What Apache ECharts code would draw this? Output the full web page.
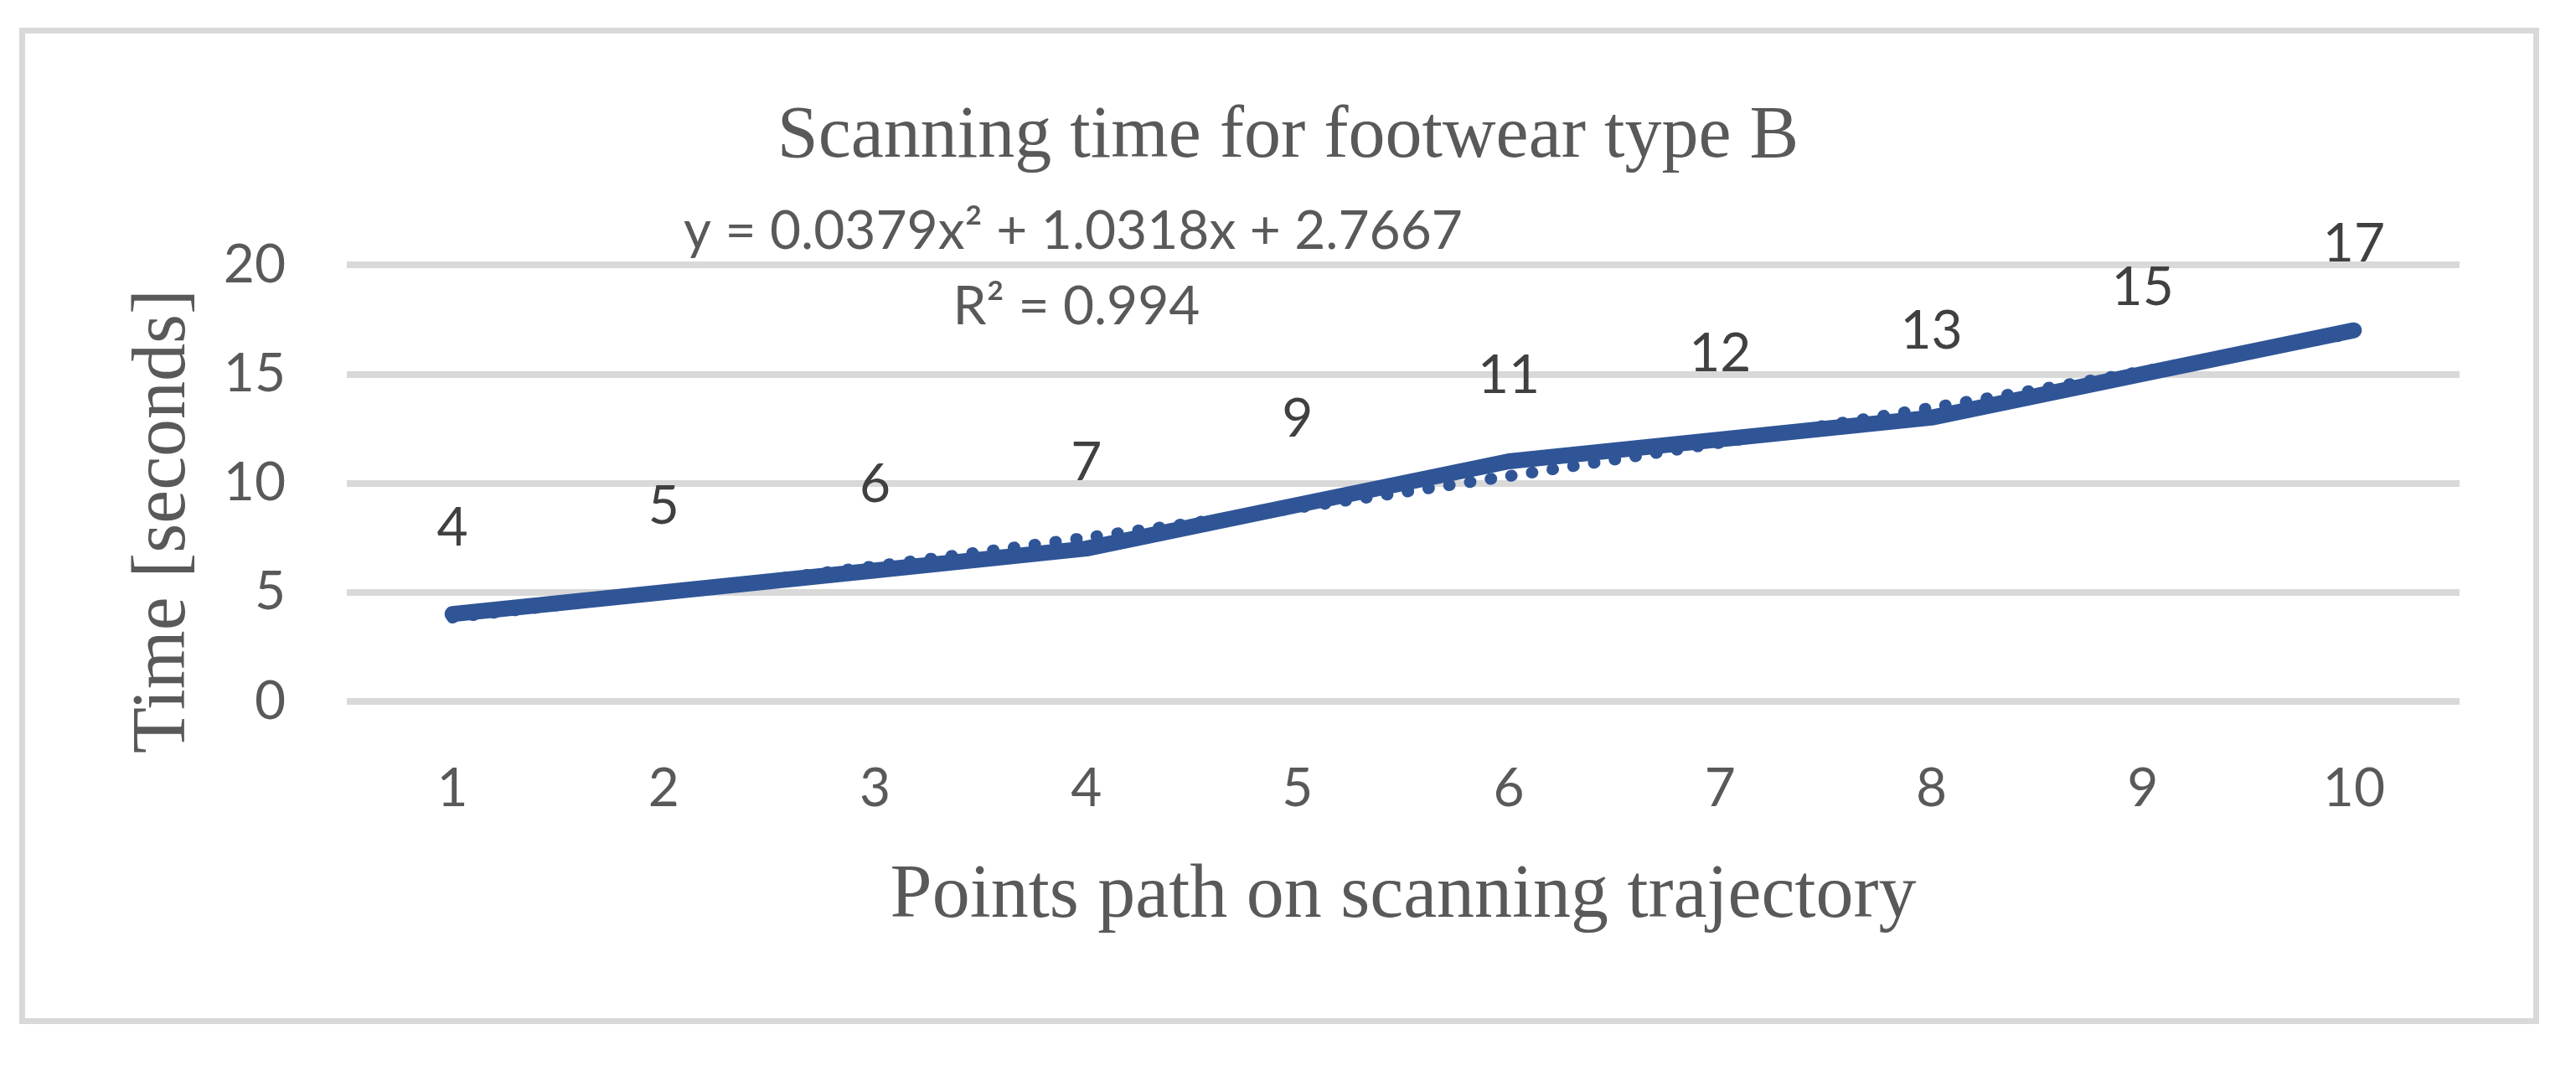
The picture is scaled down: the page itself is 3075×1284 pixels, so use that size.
<!DOCTYPE html>
<html>
<head>
<meta charset="utf-8">
<title>Scanning time for footwear type B</title>
<script src="https://cdn.jsdelivr.net/npm/echarts@6/dist/echarts.min.js"></script>
<style>
	html, body { margin: 0; padding: 0; background: #fff; }
	#chartBox { width: 3075px; height: 1284px; }
</style>
</head>
<body>
<div id="chartBox"></div>
<script>
// points along the scanning path
const pointLabels = ['1', '2', '3', '4', '5', '6', '7', '8', '9', '10'];
// measured scan time [s]
const scanTimes = [4, 5, 6, 7, 9, 11, 12, 13, 15, 17];
const trendTimes = [3.84, 4.98, 6.20, 7.50, 8.87, 10.32, 11.85, 13.45, 15.12, 16.87];
// y axis ticks
const yMin = 0, yMax = 20, yStep = 5;

const equationText = 'y = 0.0379x² + 1.0318x + 2.7667';
const r2Text = 'R² = 0.994';

const grey = '#595959';
const blue = '#2F5597';

let myChart = echarts.init(document.getElementById('chartBox'));
myChart.setOption({
	backgroundColor: '#fff',
	animation: false,
	title: {
		text: 'Scanning time for footwear type B',
		left: 'center',
		top: 120,
		padding: [0, 22, 0, 0],
		textStyle: {
			fontFamily: 'Liberation Serif',
			fontWeight: 'normal',
			fontSize: 88,
			color: grey
		}
	},
	grid: {
		left: 414,
		right: 139,
		top: 316,
		bottom: 447
	},
	xAxis: {
		type: 'category',
		data: pointLabels,
		boundaryGap: true,
		axisLine: { show: false },
		axisTick: { show: false },
		axisLabel: {
			margin: 72,
			fontFamily: 'Lato',
			fontSize: 64,
			color: grey
		},
		name: 'Points path on scanning trajectory',
		nameLocation: 'middle',
		nameGap: 188,
		nameTextStyle: {
			fontFamily: 'Liberation Serif',
			fontSize: 90,
			color: grey
		}
	},
	yAxis: {
		type: 'value',
		min: yMin,
		max: yMax,
		interval: yStep,
		axisLine: { show: false },
		axisTick: { show: false },
		axisLabel: {
			margin: 73,
			fontFamily: 'Lato',
			fontSize: 64,
			color: grey
		},
		splitLine: {
			lineStyle: { color: '#D9D9D9', width: 8 }
		}
	},
	series: [
		{
			name: 'Trend',
			type: 'line',
			data: trendTimes,
			smooth: 0.3,
			symbol: 'none',
			z: 2,
			lineStyle: {
				color: blue,
				width: 14,
				type: [1, 24],
				cap: 'round'
			}
		},
		{
			name: 'Time',
			type: 'line',
			data: scanTimes,
			symbol: 'circle',
			symbolSize: 1,
			z: 3,
			itemStyle: { color: blue },
			lineStyle: {
				color: blue,
				width: 19,
				cap: 'round',
				join: 'round'
			},
			label: {
				show: true,
				position: 'top',
				distance: 70,
				fontFamily: 'Lato',
				fontSize: 64,
				color: '#404040'
			}
		}
	],
	graphic: [
		{
			type: 'rect',
			shape: { x: 26.5, y: 36.5, width: 3001, height: 1182 },
			style: { fill: 'none', stroke: '#D9D9D9', lineWidth: 7 }
		},
		{
			type: 'text',
			x: 196,
			y: 622,
			rotation: Math.PI / 2,
			style: {
				text: 'Time [seconds]',
				fontFamily: 'Liberation Serif',
				fontSize: 90,
				fill: grey,
				textAlign: 'center',
				textVerticalAlign: 'middle'
			}
		},
		{
			type: 'text',
			x: 1281,
			y: 276,
			style: {
				text: equationText,
				fontFamily: 'Lato',
				fontSize: 64,
				fill: grey,
				textAlign: 'center',
				textVerticalAlign: 'middle'
			}
		},
		{
			type: 'text',
			x: 1285,
			y: 366,
			style: {
				text: r2Text,
				fontFamily: 'Lato',
				fontSize: 64,
				fill: grey,
				textAlign: 'center',
				textVerticalAlign: 'middle'
			}
		}
	]
});
</script>
</body>
</html>
